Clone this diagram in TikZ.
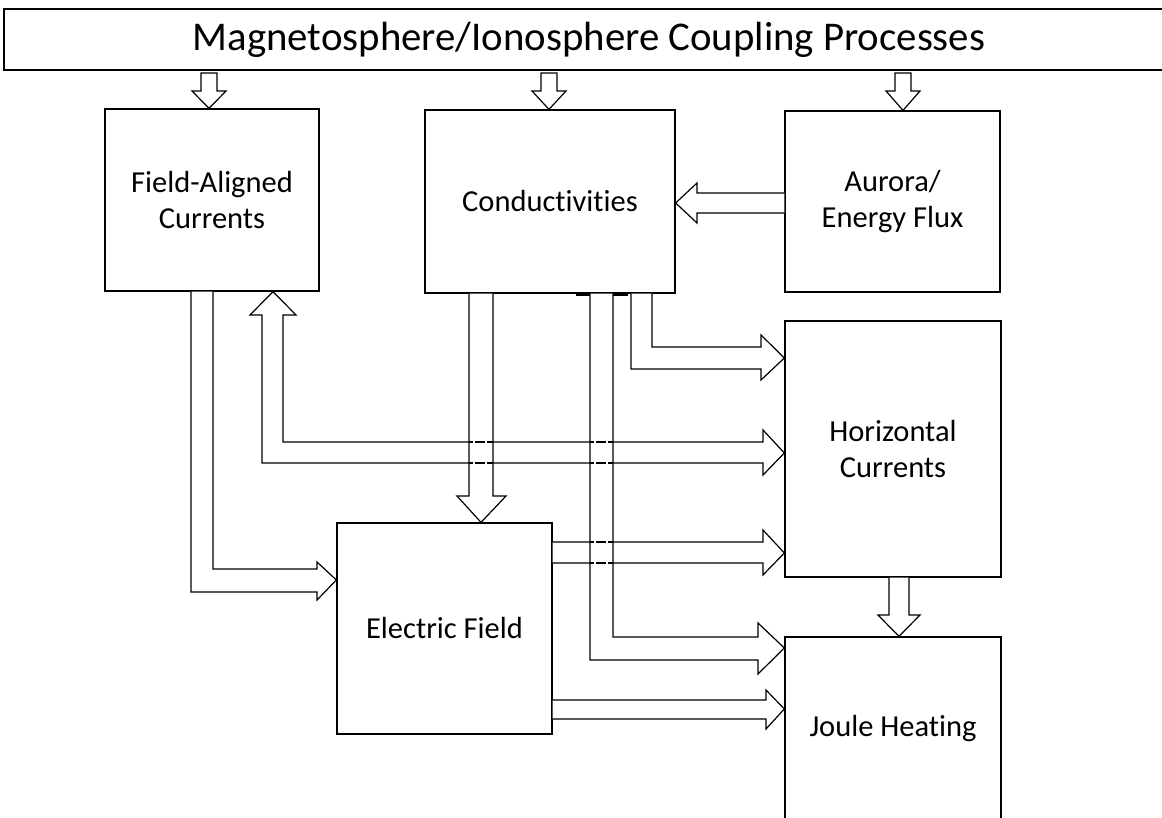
\documentclass[tikz,border=0pt]{standalone}
\usepackage{fontspec}
\setmainfont{Carlito}[Ligatures=NoCommon]
\usepackage{tikz}

\begin{document}
\begin{tikzpicture}
        [ x=1pt, y=-1pt
        , box/.style={draw, line width=1.3pt, align=center, inner sep=0pt,
                      font=\fontsize{30.5}{36}\selectfont}
        , blk/.style={draw, fill=white, line width=1.2pt, line join=miter}
        , gapline/.style={line width=1.2pt, dash pattern=on 4pt off 2pt on 10pt off 2pt on 8pt off 0pt}
        ]
        \useasboundingbox (0,0) rectangle (1162,818);
        \clip (0,0) rectangle (1162,818);
        \fill[white] (0,0) rectangle (1162,818);

        \node[box, minimum width=1170pt, minimum height=61pt, font=\fontsize{40.8}{48}\selectfont]
            (top) at (589,39.5) {Magnetosphere/Ionosphere Coupling Processes};
        \node[box, minimum width=214pt, minimum height=182pt] (fac) at (212,200) {Field-Aligned\\Currents};
        \node[box, minimum width=250pt, minimum height=183pt] (cond) at (550,201.5) {Conductivities};
        \node[box, minimum width=215pt, minimum height=181pt] (aur) at (892.5,201.5) {Aurora/\\Energy Flux};
        \node[box, minimum width=216pt, minimum height=256pt] (hc) at (893,449) {Horizontal\\Currents};
        \node[box, minimum width=215pt, minimum height=211pt] (ef) at (444.5,628.5) {Electric Field};
        \node[box, minimum width=216pt, minimum height=184pt] (jh) at (893,729) {Joule Heating};

        \foreach \n/\x in {fac/209, cond/549, aur/903}
            \draw[blk] (\x-8,73) -- (\x-8,91) -- (\x-17,91) -- (\n.north -| \x,0)
                -- (\x+17,91) -- (\x+8,91) -- (\x+8,73) -- cycle;

        \draw[blk] (aur.west |- 0,193) -- (697,193) -- (697,183) -- (cond.east |- 0,203)
            -- (697,223) -- (697,213) -- (aur.west |- 0,213);
        \draw[blk] (889,0 |- hc.south) -- (889,615) -- (878,615) -- (jh.north -| 899,0)
            -- (920,615) -- (909,615) -- (909,0 |- hc.south);

        \draw[blk] (191,0 |- fac.south) -- (191,592) -- (317,592) -- (317,600) -- (ef.west |- 0,580)
            -- (317,562) -- (317,569) -- (213,569) -- (213,0 |- fac.south);
        \draw[blk] (fac.south -| 273,0) -- (296,315) -- (283,315) -- (283,442) -- (763,442)
            -- (763,430) -- (hc.west |- 0,453) -- (763,475) -- (763,463) -- (262,463)
            -- (262,315) -- (250,315) -- cycle;
        \draw[blk] (ef.east |- 0,542) -- (763,542) -- (763,530) -- (hc.west |- 0,553)
            -- (763,575) -- (763,563) -- (ef.east |- 0,563);
        \draw[blk] (ef.east |- 0,700) -- (766,700) -- (766,690) -- (jh.west |- 0,709)
            -- (766,729) -- (766,719) -- (ef.east |- 0,719);

        \draw[blk] (631,0 |- cond.south) -- (631,369) -- (761,369) -- (761,380) -- (hc.west |- 0,358)
            -- (761,335) -- (761,347) -- (652,347) -- (652,0 |- cond.south);
        \draw[blk] (590,0 |- cond.south) -- (590,660) -- (758,660) -- (758,674) -- (jh.west |- 0,648)
            -- (758,623) -- (758,637) -- (613,637) -- (613,0 |- cond.south);
        \draw[blk] (469,0 |- cond.south) -- (469,496) -- (457,496) -- (ef.north -| 481,0)
            -- (506,496) -- (493,496) -- (493,0 |- cond.south);

        \foreach \y in {442,463}
            \draw[gapline] (469,\y) -- (493,\y);
        \foreach \y in {442,463,542,563}
            \draw[gapline] (590,\y) -- (613,\y);
        \fill (576,292.5) rectangle (590,296);
        \fill (613,292.5) rectangle (628,296);
\end{tikzpicture}
\end{document}
